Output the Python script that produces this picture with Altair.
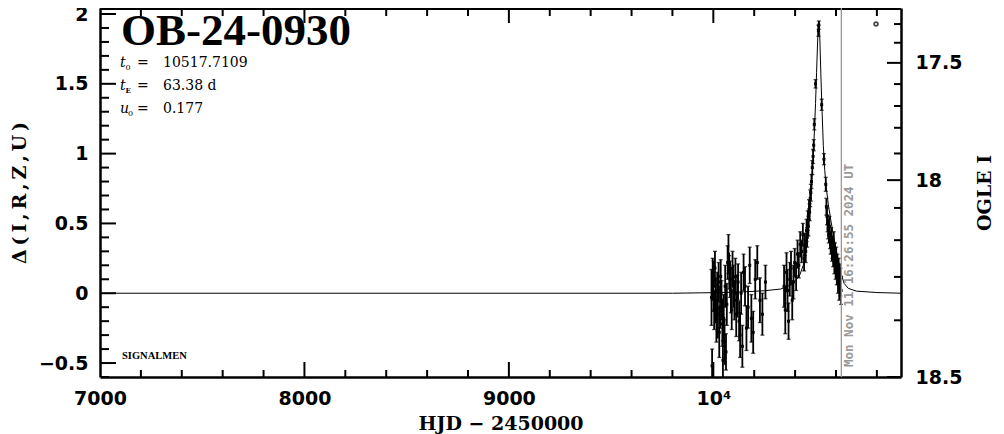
import altair as alt
import pandas as pd

# ---------------- data ----------------
model_t = [7000, 9800, 10000, 10150, 10250, 10330, 10380, 10420, 10440, 10455, 10465,
           10473, 10480, 10488, 10495, 10500, 10505, 10510, 10514, 10517, 10520, 10523,
           10527, 10532, 10538, 10545, 10553, 10562, 10575, 10587, 10600, 10612, 10625,
           10640, 10660, 10700, 10800, 10918]
model_d = [0.0, 0.0, 0.004, 0.01, 0.018, 0.03, 0.06, 0.12, 0.20, 0.32, 0.45,
           0.60, 0.75, 0.95, 1.18, 1.36, 1.58, 1.80, 1.92, 1.945, 1.87, 1.72,
           1.52, 1.30, 1.06, 0.88, 0.75, 0.64, 0.52, 0.42, 0.32, 0.23, 0.14,
           0.07, 0.035, 0.015, 0.005, 0.0]

obs_t = [9991, 9994, 9997, 10001, 10004, 10008, 10012, 10015, 10019, 10022,
         10026, 10029, 10033, 10036, 10040, 10044, 10047, 10051, 10055, 10058,
         10062, 10066, 10070, 10074, 10078, 10082, 10086, 10090, 10094, 10098,
         10103, 10108, 10112, 10117, 10121, 10126, 10131, 10136, 10142, 10148,
         10155, 10162, 10170, 10178, 10186, 10195, 10205, 10215, 10228, 10240, 10255,
         10346, 10352, 10358, 10363, 10368, 10374, 10380, 10386, 10392, 10398,
         10405, 10412, 10418, 10425, 10432, 10438,
         10444, 10448, 10452, 10456, 10459, 10462, 10465, 10468, 10471, 10474,
         10477, 10480, 10484, 10488, 10491, 10494, 10500, 10514, 10516,
         10530, 10541, 10550, 10553, 10556, 10559, 10562, 10565, 10568, 10571,
         10574, 10577, 10580, 10583, 10586, 10589, 10592, 10595, 10598, 10601,
         10604, 10607, 10610, 10613, 10616, 10619, 10622, 10625]
obs_d = [-0.03, -0.52, 0.10, 0.05, -0.12, 0.18, -0.05, -0.20, 0.02, -0.15,
         0.08, -0.28, -0.10, 0.12, -0.05, -0.22, -0.48, -0.18, -0.35, 0.05,
         -0.42, -0.08, 0.22, 0.28, 0.15, 0.10, 0.02, -0.12, 0.18, 0.05,
         -0.05, 0.12, -0.15, -0.02, 0.08, -0.20, -0.30, 0.00, -0.38, 0.15,
         0.05, -0.25, -0.10, 0.20, -0.18, -0.28, 0.10, 0.22, -0.05, -0.15, 0.08,
         0.05, -0.12, 0.15, 0.02, -0.20, 0.10, 0.18, -0.05, 0.08, 0.22,
         0.12, 0.28, 0.20, 0.35, 0.30, 0.42,
         0.25, 0.35, 0.30, 0.45, 0.40, 0.52, 0.48, 0.60, 0.58, 0.68,
         0.72, 0.80, 0.90, 0.98, 1.06, 1.21, 1.50, 1.88, 1.92,
         1.35, 0.96, 0.78, 0.62, 0.55, 0.50, 0.46, 0.42, 0.48, 0.38,
         0.35, 0.40, 0.30, 0.33, 0.26, 0.36, 0.22, 0.28, 0.18, 0.24,
         0.15, 0.20, 0.10, 0.16, 0.05, 0.12, 0.08, 0.02]
obs_e = [0.20, 0.12, 0.15, 0.18, 0.14, 0.12, 0.16, 0.15, 0.13, 0.17,
         0.14, 0.18, 0.15, 0.12, 0.14, 0.16, 0.14, 0.17, 0.16, 0.15,
         0.13, 0.15, 0.12, 0.14, 0.12, 0.13, 0.16, 0.14, 0.12, 0.15,
         0.14, 0.13, 0.16, 0.15, 0.13, 0.14, 0.16, 0.15, 0.15, 0.13,
         0.14, 0.16, 0.15, 0.13, 0.17, 0.15, 0.14, 0.12, 0.16, 0.15, 0.12,
         0.15, 0.17, 0.14, 0.15, 0.13, 0.12, 0.12, 0.14, 0.12, 0.10,
         0.10, 0.10, 0.09, 0.09, 0.08, 0.08,
         0.09, 0.08, 0.08, 0.08, 0.07, 0.07, 0.07, 0.07, 0.06, 0.06,
         0.06, 0.05, 0.05, 0.05, 0.04, 0.04, 0.03, 0.04, 0.03,
         0.04, 0.04, 0.05, 0.06, 0.06, 0.06, 0.07, 0.06, 0.07, 0.06,
         0.07, 0.07, 0.07, 0.08, 0.07, 0.08, 0.08, 0.08, 0.08, 0.09,
         0.09, 0.08, 0.10, 0.09, 0.10, 0.09, 0.10, 0.10]

marker_t = [10796]
marker_d = [1.928]
now_t = [10626.18]          # Mon Nov 11 16:26:55 2024 UT

x_label_values = [7000, 8000, 9000, 10000]
x_minor_values = [v for v in range(7000, 10918, 200) if v % 1000]
y_label_values = [-0.5, 0, 0.5, 1, 1.5, 2]
y_minor_values = [round(-0.6 + 0.1 * i, 1) for i in range(27)
                  if round(-0.6 + 0.1 * i, 1) not in y_label_values]

# OGLE I magnitude ticks and where each sits on the left (Delta) scale
ogle_mag = [17.3, 17.4, 17.5, 17.6, 17.7, 17.8, 17.9, 18.0, 18.1, 18.2, 18.3, 18.4, 18.5]
ogle_delta = [1.928, 1.794, 1.650, 1.498, 1.341, 1.185, 1.001, 0.810, 0.611, 0.380,
              0.117, -0.194, -0.600]
ogle_labeled = {17.5: "17.5", 18.0: "18", 18.5: "18.5"}

X_DOMAIN = [7000, 10918]
Y_DOMAIN = [-0.6, 2.043]
PLOT_W, PLOT_H = 801, 369
X_PER_PX = (X_DOMAIN[1] - X_DOMAIN[0]) / PLOT_W
Y_PER_PX = (Y_DOMAIN[1] - Y_DOMAIN[0]) / PLOT_H


def xs():
    return alt.Scale(domain=X_DOMAIN, nice=False, zero=False)


def ys():
    return alt.Scale(domain=Y_DOMAIN, nice=False, zero=False)


TICK_FONT = "DejaVu Sans"
TITLE_FONT = "DejaVu Serif"

x_lab = alt.Axis(orient="bottom", values=x_label_values,
                 labelExpr="datum.value >= 10000 ? '10\u2074' : format(datum.value, 'd')",
                 ticks=False, domain=True, domainWidth=2.5, domainColor="black",
                 labelFont=TICK_FONT, labelFontWeight="bold", labelFontSize=19, labelColor="black",
                 labelPadding=12, labelFlush=False, labelOverlap=False, grid=False,
                 title="HJD  \u2212  2450000", titleFont=TITLE_FONT, titleFontSize=19,
                 titleFontWeight="bold", titleColor="black", titlePadding=6)

y_lab = alt.Axis(orient="left", values=y_label_values, format="~g",
                 ticks=False, domain=True, domainWidth=2.5, domainColor="black",
                 labelFont=TICK_FONT, labelFontWeight="bold", labelFontSize=19, labelColor="black",
                 labelPadding=12, labelFlush=False, labelOverlap=False, grid=False,
                 title="\u0394\u2009(\u2009I\u2009,\u2009R\u2009,\u2009Z\u2009,\u2009U\u2009)",
                 titleFont=TITLE_FONT, titleFontSize=19, titleFontWeight="bold",
                 titleColor="black", titlePadding=9)

label_pairs = [(d, ogle_labeled[m]) for m, d in zip(ogle_mag, ogle_delta) if m in ogle_labeled]
right_label_values = [d for d, _ in label_pairs]
right_expr = "''"
for d, lab in reversed(label_pairs):
    right_expr = f"abs(datum.value - ({d})) < 0.001 ? '{lab}' : ({right_expr})"

y_right_lab = alt.Axis(orient="right", values=right_label_values, labelExpr=right_expr,
                       ticks=False, domain=True, domainWidth=2.5, domainColor="black",
                       labelFont=TICK_FONT, labelFontWeight="bold", labelFontSize=19,
                       labelColor="black", labelPadding=14, labelFlush=False, labelOverlap=False,
                       grid=False, title="OGLE I", titleFont=TITLE_FONT, titleFontSize=19,
                       titleFontWeight="bold", titleColor="black", titleAngle=270,
                       titlePadding=33)

right_major = [d for m, d in zip(ogle_mag, ogle_delta) if m in ogle_labeled]
right_minor = [d for m, d in zip(ogle_mag, ogle_delta) if m not in ogle_labeled]

# ---------------- frames ----------------
model_df = pd.DataFrame({"t": model_t, "d": model_d})
obs_df = pd.DataFrame({"t": obs_t, "d": obs_d, "e": obs_e})
obs_df["lo"] = obs_df["d"] - obs_df["e"]
obs_df["hi"] = obs_df["d"] + obs_df["e"]
marker_df = pd.DataFrame({"t": marker_t, "d": marker_d})
now_df = pd.DataFrame({"t": now_t})
one = pd.DataFrame({"k": [0]})

# segments: error bars + inward frame ticks, all drawn by one rule layer through the scales
seg_rows = []
for t, lo, hi in zip(obs_df["t"], obs_df["lo"], obs_df["hi"]):
    seg_rows.append({"x0": t, "x1": t, "y0": lo, "y1": hi, "w": 1.8})
for vals, length in ((x_label_values, 15), (x_minor_values, 7)):
    for v in vals:
        seg_rows.append({"x0": v, "x1": v, "y0": Y_DOMAIN[0],
                         "y1": Y_DOMAIN[0] + length * Y_PER_PX, "w": 2.0})
for vals, length in ((x_label_values, 15), (x_minor_values, 8)):
    for v in vals:
        seg_rows.append({"x0": v, "x1": v, "y0": Y_DOMAIN[1],
                         "y1": Y_DOMAIN[1] - length * Y_PER_PX, "w": 2.0})
for vals, length in ((y_label_values, 16), (y_minor_values, 9)):
    for v in vals:
        seg_rows.append({"x0": X_DOMAIN[0], "x1": X_DOMAIN[0] + length * X_PER_PX,
                         "y0": v, "y1": v, "w": 2.0})
for vals, length in ((right_major, 14), (right_minor, 7)):
    for v in vals:
        seg_rows.append({"x0": X_DOMAIN[1], "x1": X_DOMAIN[1] - length * X_PER_PX,
                         "y0": v, "y1": v, "w": 2.0})
seg_rows.append({"x0": X_DOMAIN[0], "x1": X_DOMAIN[1], "y0": Y_DOMAIN[1] - 0.6 * Y_PER_PX,
                 "y1": Y_DOMAIN[1] - 0.6 * Y_PER_PX, "w": 2.6})
seg_df = pd.DataFrame(seg_rows)

model = alt.Chart(model_df).mark_line(color="black", strokeWidth=1, clip=True).encode(
    x=alt.X("t:Q", scale=xs(), axis=x_lab),
    y=alt.Y("d:Q", scale=ys(), axis=y_lab),
)

segs = alt.Chart(seg_df).mark_rule(color="black", clip=True).encode(
    x=alt.X("x0:Q", scale=xs(), axis=None),
    x2="x1:Q",
    y=alt.Y("y0:Q", scale=ys(), axis=None),
    y2="y1:Q",
    strokeWidth=alt.StrokeWidth("w:Q", scale=None, legend=None),
)

pts = alt.Chart(obs_df).mark_square(color="black", size=9, opacity=1, clip=True).encode(
    x=alt.X("t:Q", scale=xs(), axis=None),
    y=alt.Y("d:Q", scale=ys(), axis=None),
)

caps_lo = alt.Chart(obs_df).mark_tick(color="black", orient="horizontal", size=4,
                                      thickness=1.3, clip=True).encode(
    x=alt.X("t:Q", scale=xs(), axis=None),
    y=alt.Y("lo:Q", scale=ys(), axis=y_right_lab),
)

caps_hi = alt.Chart(obs_df).mark_tick(color="black", orient="horizontal", size=4,
                                      thickness=1.3, clip=True).encode(
    x=alt.X("t:Q", scale=xs(), axis=None),
    y=alt.Y("hi:Q", scale=ys(), axis=None),
)

marker = alt.Chart(marker_df).mark_point(shape="circle", color="black", size=14,
                                         strokeWidth=1.8, filled=False).encode(
    x=alt.X("t:Q", scale=xs(), axis=None),
    y=alt.Y("d:Q", scale=ys(), axis=None),
)

now_rule = alt.Chart(now_df).mark_rule(color="#999999", strokeWidth=1.3).encode(
    x=alt.X("t:Q", scale=xs(), axis=None),
)


def txt(s, x, y, size, font, weight="normal", style="normal", color="black", angle=0):
    return alt.Chart(one).mark_text(text=s, font=font, fontSize=size, fontWeight=weight,
                                    fontStyle=style, color=color, angle=angle, align="left",
                                    baseline="alphabetic").encode(x=alt.value(x), y=alt.value(y))


texts = [
    txt("OB-24-0930", 21, 37, 45, "Liberation Serif", weight="bold"),
    txt("t", 20, 58.5, 14, "DejaVu Serif", style="italic"),
    txt("0", 25.5, 61.5, 8, "DejaVu Serif"),
    txt("=", 37, 58.5, 14, "DejaVu Serif"),
    txt("10517.7109", 63, 58.5, 14, "DejaVu Serif"),
    txt("t", 20, 82, 14, "DejaVu Serif", style="italic"),
    txt("E", 25.5, 84.5, 7, "DejaVu Serif", weight="bold"),
    txt("=", 37, 82, 14, "DejaVu Serif"),
    txt("63.38  d", 63, 82, 14, "DejaVu Serif"),
    txt("u", 20, 104.5, 14, "DejaVu Serif", style="italic"),
    txt("0", 28, 107.5, 8, "DejaVu Serif"),
    txt("=", 37, 104.5, 14, "DejaVu Serif"),
    txt("0.177", 63, 104.5, 14, "DejaVu Serif"),
    txt("SIGNALMEN", 22, 351, 10.5, "Liberation Serif", weight="bold"),
    txt("Mon Nov 11 16:26:55 2024 UT", 753, 359, 12.5, "DejaVu Sans Mono",
        weight="bold", color="#999999", angle=270),
]

chart = alt.layer(model, segs, pts, caps_lo, caps_hi, marker, now_rule, *texts).resolve_scale(
    x="independent", y="independent"
).resolve_axis(
    x="independent", y="independent"
).properties(
    width=PLOT_W, height=PLOT_H,
    autosize=alt.AutoSizeParams(type="none"),
    padding={"left": 92, "top": 0, "right": 95, "bottom": 57},
).configure_view(stroke=None)

chart.save("out.html", embed_options={"renderer": "svg", "actions": False})
